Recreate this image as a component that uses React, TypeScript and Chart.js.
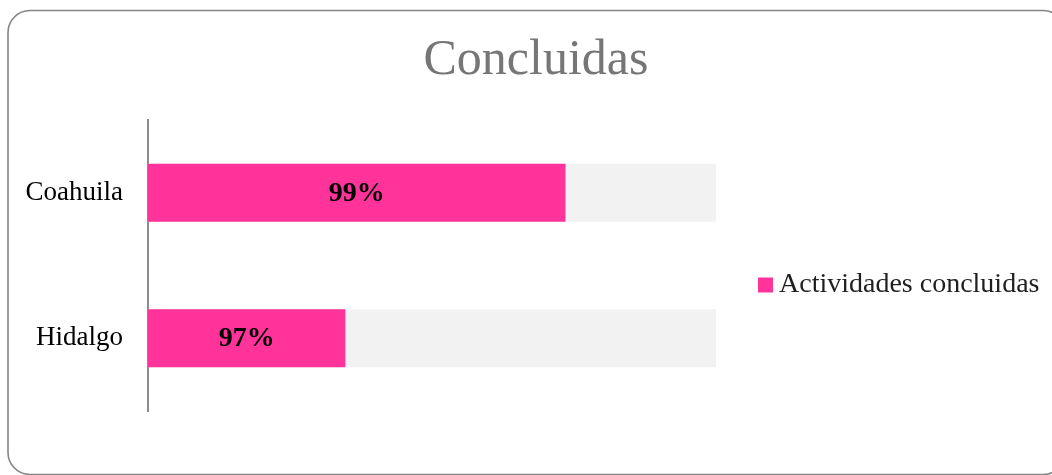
import React, { useEffect, useRef } from "react";
import { Chart, registerables } from "chart.js";

Chart.register(...registerables);

const categories = ["Coahuila", "Hidalgo"];
const concluidas = [0.9894, 0.9739];
const totals = [1, 1];
const seriesLabel = "Actividades concluidas";
const totalLabel = "Total";
const titleText = "Concluidas";

const FONT = "'Liberation Serif', 'Times New Roman', serif";
const PINK = "#FF3399";
const GRAY = "#F2F2F2";

const borderPlugin = {
  id: "frameBorder",
  beforeDraw(chart: any) {
    const ctx = chart.ctx;
    ctx.save();
    ctx.strokeStyle = "#858585";
    ctx.lineWidth = 1.6;
    ctx.beginPath();
    (ctx as any).roundRect(8, 10.5, 1057, 464, 22);
    ctx.stroke();
    ctx.restore();
  },
};

const dataLabelPlugin = {
  id: "barValueLabels",
  afterDatasetsDraw(chart: any) {
    const ctx = chart.ctx;
    const meta = chart.getDatasetMeta(0);
    const ds = chart.data.datasets[0];
    const area = chart.chartArea;
    ctx.save();
    ctx.font = `bold 28px ${FONT}`;
    ctx.fillStyle = "#000000";
    ctx.textAlign = "center";
    ctx.textBaseline = "middle";
    meta.data.forEach((el: any, i: number) => {
      const base = Math.max(el.base, area.left);
      const cx = (el.x + base) / 2;
      ctx.fillText(Math.round(ds.data[i] * 100) + "%", cx, el.y + 1);
    });
    ctx.restore();
  },
};

const legendPlugin = {
  id: "sideLegend",
  afterDraw(chart: any) {
    const ctx = chart.ctx;
    const ds = chart.data.datasets[0];
    const area = chart.chartArea;
    const x = area.right + 42;
    const y = 285;
    ctx.save();
    ctx.fillStyle = ds.backgroundColor;
    ctx.fillRect(x, y - 7.5, 15, 15);
    ctx.font = `28px ${FONT}`;
    ctx.fillStyle = "#1f1f1f";
    ctx.textAlign = "left";
    ctx.textBaseline = "middle";
    ctx.fillText(ds.label, x + 21, y);
    ctx.restore();
  },
};

export default function App() {
  const ref = useRef<HTMLCanvasElement | null>(null);

  useEffect(() => {
    if (!ref.current) return;
    const chart = new Chart(ref.current, {
      type: "bar",
      data: {
        labels: categories,
        datasets: [
          {
            label: seriesLabel,
            data: concluidas,
            backgroundColor: PINK,
            barPercentage: 0.4,
            categoryPercentage: 1,
            grouped: false,
            order: 0,
            clip: 0,
          } as any,
          {
            label: totalLabel,
            data: totals,
            backgroundColor: GRAY,
            barPercentage: 0.4,
            categoryPercentage: 1,
            grouped: false,
            order: 1,
            clip: 0,
          } as any,
        ],
      },
      options: {
        indexAxis: "y",
        responsive: false,
        animation: false,
        layout: { padding: { left: 20, right: 0, top: 0, bottom: 64 } },
        scales: {
          x: {
            type: "linear",
            min: 0.96,
            max: 1,
            display: false,
          },
          y: {
            type: "category",
            position: "left",
            grid: { display: false, drawTicks: false },
            border: { display: true, color: "#8c8c8c", width: 2 },
            ticks: {
              padding: 25,
              color: "#000000",
              font: { family: FONT, size: 27 },
            },
            afterFit: (s: any) => {
              s.width = 128;
            },
          },
          yRight: {
            type: "category",
            position: "right",
            display: true,
            grid: { display: false, drawTicks: false },
            border: { display: false },
            ticks: { display: false },
            afterFit: (s: any) => {
              s.width = 336;
            },
          },
        } as any,
        plugins: {
          legend: { display: false },
          tooltip: { enabled: false },
          title: {
            display: true,
            text: titleText,
            color: "#767676",
            font: { family: FONT, size: 50, weight: "normal" },
            padding: { top: 31, bottom: 29 },
          },
        },
      },
      plugins: [borderPlugin, dataLabelPlugin, legendPlugin],
    });
    return () => chart.destroy();
  }, []);

  return (
    <div style={{ position: "absolute", left: 0, top: 0, width: 1052, height: 475, background: "#ffffff" }}>
      <canvas ref={ref} width={1052} height={475} style={{ display: "block", width: 1052, height: 475 }} />
    </div>
  );
}
